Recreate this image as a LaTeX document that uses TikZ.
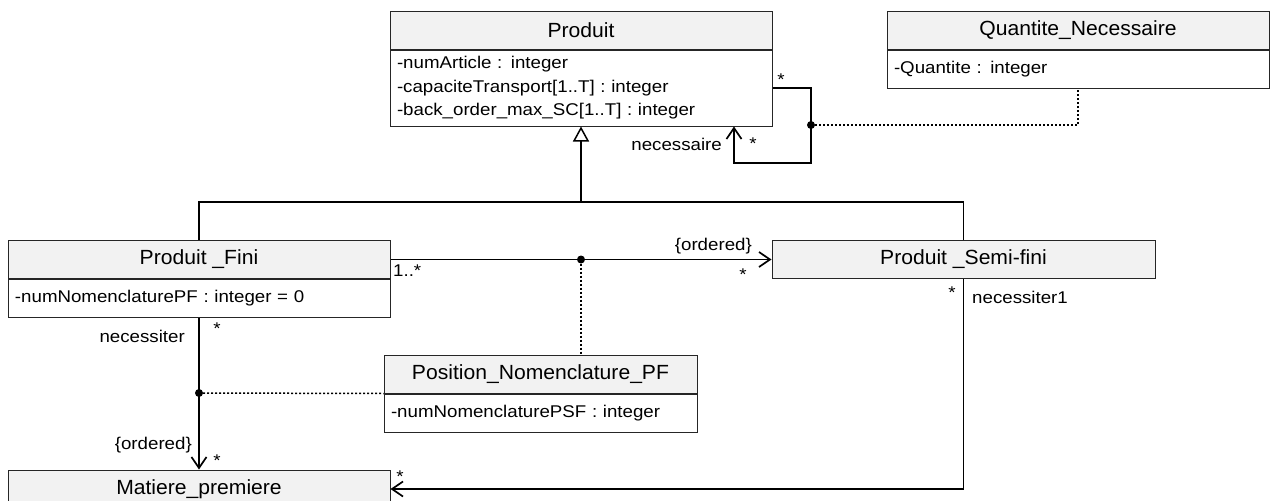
\documentclass[tikz,border=0pt]{standalone}
\usepackage{fontspec}
\setmainfont{Liberation Sans}
\newfontfamily\attrfamily[FakeStretch=1.1]{Liberation Sans}
\newfontfamily\titlefamily[FakeStretch=1.03]{Liberation Sans}
\newcommand{\attrfont}{\attrfamily\fontsize{17}{23.5}\selectfont}
\newcommand{\titlefont}{\titlefamily\fontsize{20.5}{24}\selectfont}
\usetikzlibrary{arrows.meta, positioning}
\definecolor{headfill}{HTML}{F2F2F2}

\tikzset{
	classhead/.style={draw=black!85, fill=headfill, line width=1pt, minimum height=38pt, inner sep=0pt, font=\titlefont},
	classattr/.style={draw=black!85, fill=white, line width=1pt, align=left, inner xsep=7pt, inner ysep=0pt, minimum height=38pt, font=\attrfont},
	assoc/.style={line width=1.7pt, black},
	navig/.style={assoc, -{Straight Barb[length=11pt, width=15pt]}},
	gen/.style={assoc, -{Triangle[open, length=15pt, width=16pt, line width=1.5pt]}},
	dotline/.style={line width=1.5pt, dash pattern=on 2pt off 2pt},
	lbl/.style={font=\attrfont, inner sep=0pt},
}

\begin{document}
\begin{tikzpicture}[x=1pt, y=-1pt]
	\useasboundingbox (0,0) rectangle (1270,501);

	% classes
	\node[classhead, minimum width=382pt] (produit) at (581,30) {Produit};
	\node[classattr, below=0pt of produit, text width=368pt, minimum height=76pt] (produitAttr)
		{-numArticle : integer\\-capaciteTransport[1..T] : integer\\-back\_order\_max\_SC[1..T] : integer};
	\node[classhead, minimum width=382pt] (quantite) at (1078,30) {Quantite\_Necessaire};
	\node[classattr, below=0pt of quantite, text width=368pt] (quantiteAttr) {-Quantite : integer};
	\node[classhead, minimum width=382pt] (fini) at (199,259.5) {Produit \_Fini};
	\node[classattr, below=0pt of fini, text width=368pt] (finiAttr) {-numNomenclaturePF : integer = 0};
	\node[classhead, minimum width=383pt] (semifini) at (963.5,259.5) {Produit \_Semi-fini};
	\node[classhead, minimum width=313pt] (position) at (540.5,374) {Position\_Nomenclature\_PF};
	\node[classattr, below=0pt of position, text width=299pt] (positionAttr) {-numNomenclaturePSF : integer};
	\node[classhead, minimum width=382pt] (matiere) at (199,489) {Matiere\_premiere};

	% heritage
	\coordinate (genjoin) at (581,202);
	\draw[assoc] (fini.north) |- (genjoin) -| (semifini.north);
	\draw[gen] (genjoin) -- (produitAttr.south);

	% association reflexive
	\coordinate (loopR) at (811,163);
	\coordinate (loopL) at (734,163);
	\coordinate (loopdot) at (811,125);
	\draw[navig] (produitAttr.east) -| (loopR) -- (loopL) -- (loopL |- produitAttr.south);
	\draw[dotline] (loopdot) -| (quantiteAttr.south);

	% associations
	\coordinate (assocdot) at (581,259.5);
	\coordinate (finidot) at (199,393);
	\draw[navig] (fini.east) -- (semifini.west);
	\draw[dotline] (assocdot) -- (assocdot |- position.north);
	\draw[navig] (finiAttr.south) -- (matiere.north);
	\draw[dotline] (finidot) -- (positionAttr.north west);
	\draw[navig] (semifini.south) |- (matiere.east);
	\foreach \d in {loopdot, assocdot, finidot}
		\fill (\d) circle[radius=4pt];

	% roles et multiplicites
	\node[lbl, anchor=east] (necessaire) at (722,144) {necessaire};
	\node[lbl, anchor=west] (multA) at (393,270.5) {1..*};
	\node[lbl, anchor=east] (orderedA) at (752,246) {\{ordered\}};
	\node[lbl, anchor=east] (necessiter) at (185,336) {necessiter};
	\node[lbl, anchor=east] (orderedB) at (192,445) {\{ordered\}};
	\node[lbl, anchor=west] (necessiterA) at (972,297) {necessiter1};
	\foreach \x/\y [count=\i] in {781/80, 753/144, 743/275, 217/329, 217/461, 400/477, 952/293}
		\node[lbl] (star\i) at (\x,\y) {*};
\end{tikzpicture}
\end{document}
